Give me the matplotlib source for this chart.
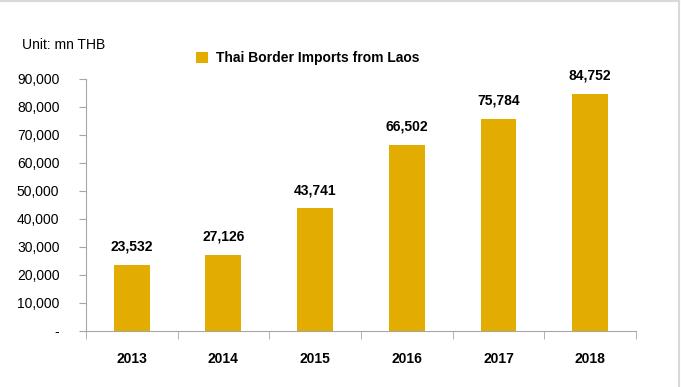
import matplotlib.pyplot as plt
from matplotlib.lines import Line2D
from matplotlib.ticker import FuncFormatter

plt.rcParams['font.family'] = ['Liberation Sans', 'DejaVu Sans']

years = ["2013", "2014", "2015", "2016", "2017", "2018"]
imports = [23532, 27126, 43741, 66502, 75784, 84752]
series_name = "Thai Border Imports from Laos"

gold = "#E2AC00"
axis_grey = "#A6A6A6"

fig = plt.figure(figsize=(6.81, 3.87), dpi=100)
ax = fig.add_axes([0.126, 0.145, 0.808, 0.651])

x = range(len(years))
bars = ax.bar(x, imports, width=0.39, color=gold, label=series_name, zorder=2)

# value labels above each bar
for xi, v in zip(x, imports):
    ax.annotate(f"{v:,}", (xi, v), xytext=(0, 8), textcoords="offset points",
                ha="center", va="bottom", fontsize=10, fontweight="bold")

ax.set_xlim(-0.5, len(years) - 0.5)
ax.set_ylim(0, 90000)
ax.set_yticks(range(0, 90001, 10000))
ax.yaxis.set_major_formatter(FuncFormatter(lambda v, p: "-" if v == 0 else f"{int(v):,}"))
ax.tick_params(axis="y", labelsize=10, length=5, color=axis_grey, pad=14)

# category labels centred, tick marks between categories
ax.set_xticks(list(x))
ax.set_xticklabels(years, fontsize=10, fontweight="bold")
ax.tick_params(axis="x", length=0, pad=15)
ax.set_xticks([i - 0.5 for i in range(len(years) + 1)], minor=True)
ax.tick_params(axis="x", which="minor", length=6, color=axis_grey)

for side in ["top", "right"]:
    ax.spines[side].set_visible(False)
for side in ["left", "bottom"]:
    ax.spines[side].set_color(axis_grey)

fig.text(0.032, 0.883, "Unit: mn THB", fontsize=10, va="center")
ax.legend(loc="center left", bbox_to_anchor=(0.177, 1.083), frameon=False,
          handlelength=0.85, handleheight=0.85, handletextpad=0.6,
          prop={"size": 10, "weight": "bold"})

# thin frame lines on the top and right edge
fig.add_artist(Line2D([0, 0.997], [0.998, 0.998], color="#D9D9D9", lw=1.5, transform=fig.transFigure))
fig.add_artist(Line2D([0.997, 0.997], [0, 0.998], color="#D9D9D9", lw=1.5, transform=fig.transFigure))

fig.savefig("out.png", dpi=100)
